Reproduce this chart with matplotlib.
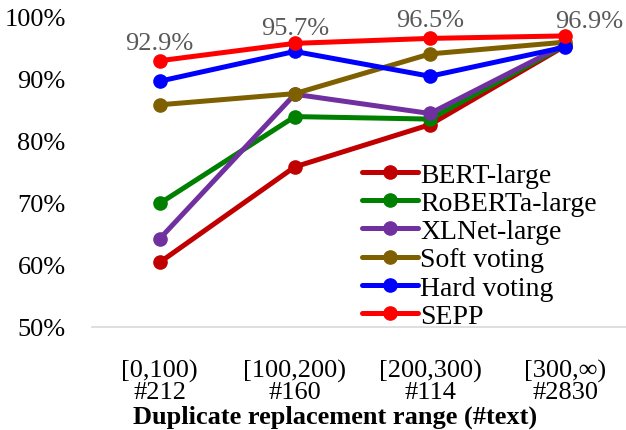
import numpy as np
import matplotlib
matplotlib.use("Agg")
import matplotlib.pyplot as plt
from matplotlib.ticker import FuncFormatter

plt.rcParams['font.family'] = ['Liberation Serif', 'DejaVu Serif']

ranges = ['[0,100)', '[100,200)', '[200,300)', '[300,∞)']
counts = ['#212', '#160', '#114', '#2830']

bert = [60.4, 75.8, 82.6, 95.3]
roberta = [69.9, 83.9, 83.5, 95.4]
xlnet = [64.2, 87.5, 84.4, 95.5]
soft = [85.8, 87.6, 94.0, 95.9]
hard = [89.6, 94.4, 90.4, 95.1]
sepp = [92.9, 95.7, 96.5, 96.9]

series = [
    ('BERT-large', bert, '#C00000'),
    ('RoBERTa-large', roberta, '#008000'),
    ('XLNet-large', xlnet, '#7030A0'),
    ('Soft voting', soft, '#7F6000'),
    ('Hard voting', hard, '#0000FF'),
    ('SEPP', sepp, '#FF0000'),
]

fig = plt.figure(figsize=(6.26, 4.31), dpi=100)
ax = fig.add_axes([0.147, 0.239, 0.853, 0.72])

x = np.arange(len(ranges))
for name, vals, col in series:
    ax.plot(x, np.array(vals) / 100, color=col, lw=3.6, marker='o', ms=9.5,
            label=name, solid_capstyle='round', clip_on=False)

# SEPP value labels
offsets = [(0, 5), (0, 3), (0, 5), (17, 3)]
for xi, v, off in zip(x, sepp, offsets):
    ax.annotate(f'{v:.1f}%', (xi, v / 100), xytext=off, textcoords='offset points',
                ha='center', va='bottom', fontsize=19, color='#595959',
                annotation_clip=False)

ax.set_ylim(0.5, 1.0)
ax.set_xlim(-0.5, 3.45)
ax.set_yticks(np.arange(0.5, 1.01, 0.1))
ax.yaxis.set_major_formatter(FuncFormatter(lambda v, p: f'{v * 100:.0f}%'))
ax.set_xticks(x)
ax.set_xticklabels([f'{r}\n{c}' for r, c in zip(ranges, counts)], linespacing=0.95)
ax.tick_params(axis='both', length=0, labelsize=19)
ax.tick_params(axis='x', pad=23)
ax.tick_params(axis='y', pad=19)

for s in ['top', 'right', 'left']:
    ax.spines[s].set_visible(False)
ax.spines['bottom'].set_color('#D9D9D9')
ax.spines['bottom'].set_linewidth(1.2)

ax.legend(loc='center left', bbox_to_anchor=(0.5056, 0.2626), frameon=False,
          fontsize=20, handlelength=2.0, handletextpad=0.1, labelspacing=0.1,
          borderpad=0, borderaxespad=0)

fig.text(335 / 626, 0.032, 'Duplicate replacement range (#text)', ha='center',
         va='center', fontsize=19, fontweight='bold')

fig.savefig('out.png', dpi=100)
